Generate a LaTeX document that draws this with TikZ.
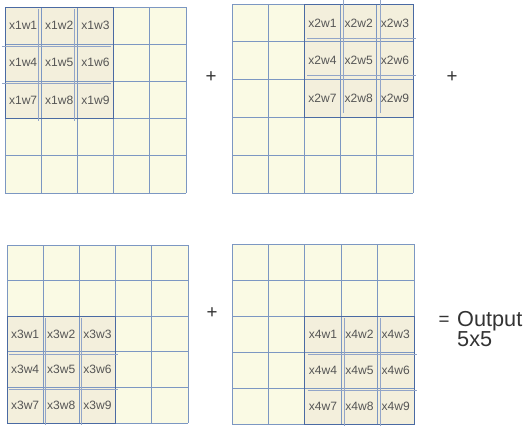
\documentclass[tikz,border=0pt]{standalone}
\usepackage{fontspec}
\setmainfont{Liberation Sans}
\usepackage{xcolor}
\usepackage{tikz}
\usetikzlibrary{positioning}
\definecolor{gridbg}{HTML}{FAFAE4}
\definecolor{patchbg}{HTML}{F3EFDC}
\definecolor{gridline}{HTML}{7C97C2}
\definecolor{edgeline}{HTML}{4A6AA3}
\definecolor{celltext}{HTML}{555555}
\definecolor{optext}{HTML}{333333}
\tikzset{
  cell/.style={font=\fontsize{10.3}{11}\selectfont, text=celltext, inner sep=0pt},
  op/.style={font=\fontsize{16}{16}\selectfont, text=optext, inner sep=0pt},
  result/.style={font=\fontsize{18.5}{17}\selectfont, text=optext, align=left, inner sep=0pt},
}

\begin{document}
\begin{tikzpicture}[x=0.3mm,y=-0.3mm]
  \useasboundingbox (0,0) rectangle (530,427);
  \fill[white] (0,0) rectangle (530,427);

  % four 5x5 grids, each with its 3x3 patch
  \foreach \g/\xa/\ya/\cw/\ch/\ci/\rj/\dx/\dy in {1/5/7/36.2/37.2/0/0/-3/2, 2/232/4/36.2/37.8/2/0/3/-4, 3/7/245/36.2/35.6/0/2/2/2, 4/232/244/36.4/36/2/2/3/2} {
    \pgfmathsetmacro{\xb}{\xa+5*\cw}
    \pgfmathsetmacro{\yb}{\ya+5*\ch}
    \pgfmathsetmacro{\px}{\xa+\ci*\cw}
    \pgfmathsetmacro{\py}{\ya+\rj*\ch}
    \fill[gridbg] (\xa,\ya) rectangle (\xb,\yb);
    \fill[patchbg] (\px,\py) rectangle (\px+3*\cw,\py+3*\ch);
    \foreach \k in {0,...,5} {
      \draw[gridline, line width=0.6pt] (\xa+\k*\cw,\ya) -- (\xa+\k*\cw,\yb);
      \draw[gridline, line width=0.6pt] (\xa,\ya+\k*\ch) -- (\xb,\ya+\k*\ch);
    }
    % patch outline and its shifted copy
    \draw[edgeline, line width=0.8pt] (\px,\py) rectangle (\px+3*\cw,\py+3*\ch);
    \foreach \k in {1,2} {
      \draw[edgeline!60, line width=0.45pt] (\px+\k*\cw+\dx,\py+\dy) -- (\px+\k*\cw+\dx,\py+3*\ch+\dy);
      \draw[edgeline!60, line width=0.45pt] (\px+\dx,\py+\k*\ch+\dy) -- (\px+3*\cw+\dx,\py+\k*\ch+\dy);
    }
    \foreach \k in {1,...,9} {
      \pgfmathtruncatemacro{\cc}{mod(\k-1,3)}
      \pgfmathtruncatemacro{\rr}{(\k-1)/3}
      \node[cell] (x\g w\k) at (\px+\cc*\cw+0.5*\cw,\py+\rr*\ch+0.5*\ch) {x\g w\k};
    }
  }

  % operators
  \node[op] (plus1) at (211,77) {+};
  \node[op] (plus2) at (452,77) {+};
  \node[op] (plus3) at (212,313) {+};
  \node[op] (equal) at (444,321) {=};
  \node[result, anchor=west] (output) at (457,329) {Output\\5x5};
\end{tikzpicture}
\end{document}
